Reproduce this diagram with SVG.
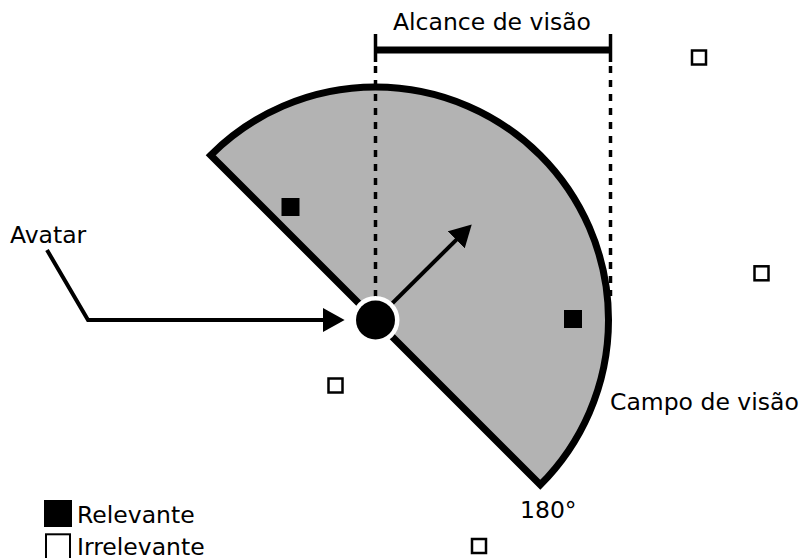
<svg xmlns="http://www.w3.org/2000/svg" width="802" height="558" viewBox="0 0 802 558">
<style>
text{font-family:"DejaVu Sans","Liberation Sans",sans-serif;font-size:23.5px;fill:#000}
.obj{stroke:#000;stroke-width:2.5;fill:#fff}
.rel{fill:#000}
.dash{stroke:#000;stroke-width:3.5;stroke-dasharray:7 7;fill:none}
.arr{stroke:#000;stroke-width:4;fill:none}
</style>
<defs>
<marker id="ah" markerUnits="userSpaceOnUse" markerWidth="22" markerHeight="24" viewBox="0 -11 20 22" refX="2" refY="0" orient="auto">
<path d="M0,-11 L20,0 L0,11 Z" fill="#000"/>
</marker>
</defs>
<rect width="802" height="558" fill="#fff"/>
<g id="campo">
<path d="M210.7,155.2 A233,233 0 0 1 540.3,484.8 Z" fill="#b3b3b3" stroke="#000" stroke-width="7" stroke-linejoin="miter"/>
</g>
<g id="connectors">
<line class="dash" x1="375.5" y1="66" x2="375.5" y2="320"/>
<line class="dash" x1="610.5" y1="66" x2="610.5" y2="296"/>
<line x1="375.5" y1="34" x2="375.5" y2="62" stroke="#000" stroke-width="3.5"/>
<line x1="610.5" y1="34" x2="610.5" y2="62" stroke="#000" stroke-width="3.5"/>
<line x1="375.5" y1="50" x2="610.5" y2="50" stroke="#000" stroke-width="7"/>
<polyline class="arr" points="47,250 88,320 325,320" marker-end="url(#ah)"/>
<line class="arr" x1="375.5" y1="320" x2="457.8" y2="238.3" marker-end="url(#ah)"/>
</g>
<g id="avatar">
<circle cx="375.5" cy="320" r="24" fill="#fff"/>
<circle cx="375.5" cy="320" r="19.5" fill="#000"/>
</g>
<g id="objetos">
<rect class="rel" x="281.5" y="198" width="18" height="18"/>
<rect class="rel" x="564" y="310" width="18" height="18"/>
<rect class="obj" x="692" y="50.5" width="14" height="14"/>
<rect class="obj" x="754.5" y="266.3" width="14" height="14"/>
<rect class="obj" x="328.5" y="378.5" width="14" height="14"/>
<rect class="obj" x="472" y="539" width="14" height="14"/>
</g>
<g id="labels">
<text x="393" y="30">Alcance de visão</text>
<text x="10" y="243">Avatar</text>
<text x="610" y="410">Campo de visão</text>
<text x="520" y="518">180°</text>
</g>
<g id="legenda">
<rect x="44" y="500" width="28" height="27" fill="#000"/>
<rect x="46" y="534.3" width="24" height="26" fill="#fff" stroke="#000" stroke-width="2"/>
<text x="77" y="523">Relevante</text>
<text x="77" y="555">Irrelevante</text>
</g>
</svg>
